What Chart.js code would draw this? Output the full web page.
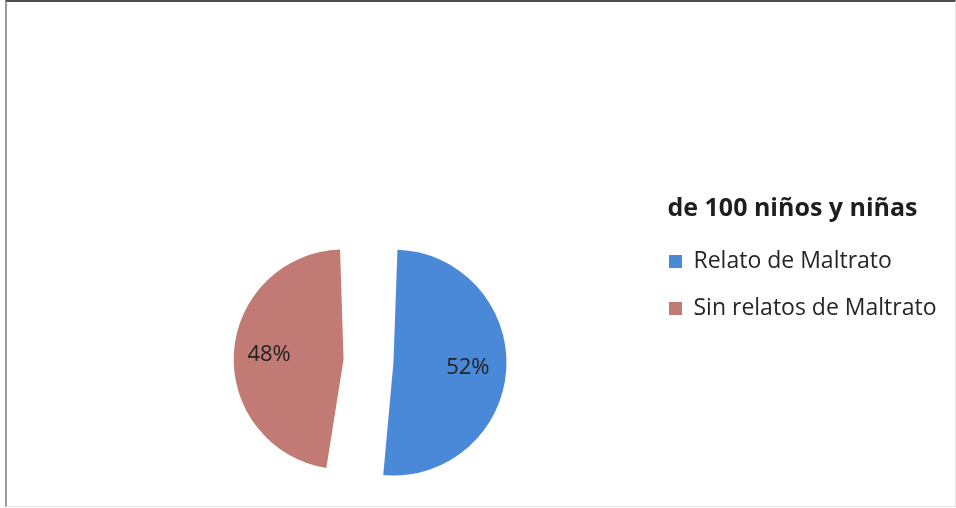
<!DOCTYPE html>
<html>
<head>
<meta charset="utf-8">
<script src="https://cdn.jsdelivr.net/npm/chart.js@4.4.1/dist/chart.umd.min.js"></script>
<style>
  html, body { margin: 0; background: #fff; overflow: hidden; }
  #wrap { position: relative; width: 956px; height: 508px; overflow: hidden; }
  #frame {
    position: absolute; left: 5px; top: 0; width: 948px; height: 504px;
    border-top: 2px solid #505050; border-left: 2px solid #9c9c9c;
    border-right: 1px solid #e6e6e6; border-bottom: 1px solid #e6e6e6;
    pointer-events: none;
  }
</style>
</head>
<body>
<div id="wrap">
  <canvas id="chart" width="956" height="528"></canvas>
  <div id="frame"></div>
</div>
<script>
var categories = ['Relato de Maltrato', 'Sin relatos de Maltrato'];
var values = [52, 48];
var colors = ['#4a89d8', '#c27b74'];
var legendTitle = 'de 100 niños y niñas';

// percentage labels drawn on each slice
var sliceLabels = {
    id: 'sliceLabels',
    afterDatasetsDraw: function (chart) {
        var ctx = chart.ctx;
        var meta = chart.getDatasetMeta(0);
        var total = values.reduce(function (a, b) { return a + b; }, 0);
        ctx.save();
        ctx.font = '22px "Open Sans"';
        ctx.fillStyle = '#222';
        ctx.textAlign = 'center';
        ctx.textBaseline = 'middle';
        meta.data.forEach(function (arc, i) {
            var p = arc.getProps(['x', 'y', 'startAngle', 'endAngle', 'outerRadius'], true);
            var shift = (arc.options.offset || 0) / 4; // v4 draws offset / 4
            var mid = (p.startAngle + p.endAngle) / 2;
            var d = shift + (p.outerRadius + shift) * 0.66;
            var pct = Math.round(values[i] / total * 100) + '%';
            ctx.fillText(pct, p.x + Math.cos(mid) * d, p.y + Math.sin(mid) * d);
        });
        ctx.restore();
    }
};

new Chart(document.getElementById('chart'), {
    type: 'pie',
    data: {
        labels: categories,
        datasets: [{
            data: values,
            backgroundColor: colors,
            borderWidth: 0,
            offset: 100,
            hoverOffset: 100
        }]
    },
    options: {
        responsive: false,
        animation: false,
        radius: 88,
        layout: {
            padding: { left: 92, right: 16, top: 196, bottom: 2 }
        },
        plugins: {
            tooltip: { enabled: false },
            legend: {
                position: 'right',
                align: 'start',
                maxWidth: 295,
                title: {
                    display: true,
                    text: legendTitle,
                    position: 'center',
                    color: '#1e1e1e',
                    font: { family: 'Open Sans', size: 25, weight: 'bold' },
                    padding: 0
                },
                labels: {
                    color: '#262626',
                    font: { family: 'Open Sans', size: 23 },
                    boxWidth: 13,
                    boxHeight: 13,
                    padding: 24
                }
            }
        }
    },
    plugins: [sliceLabels]
});
</script>
</body>
</html>
